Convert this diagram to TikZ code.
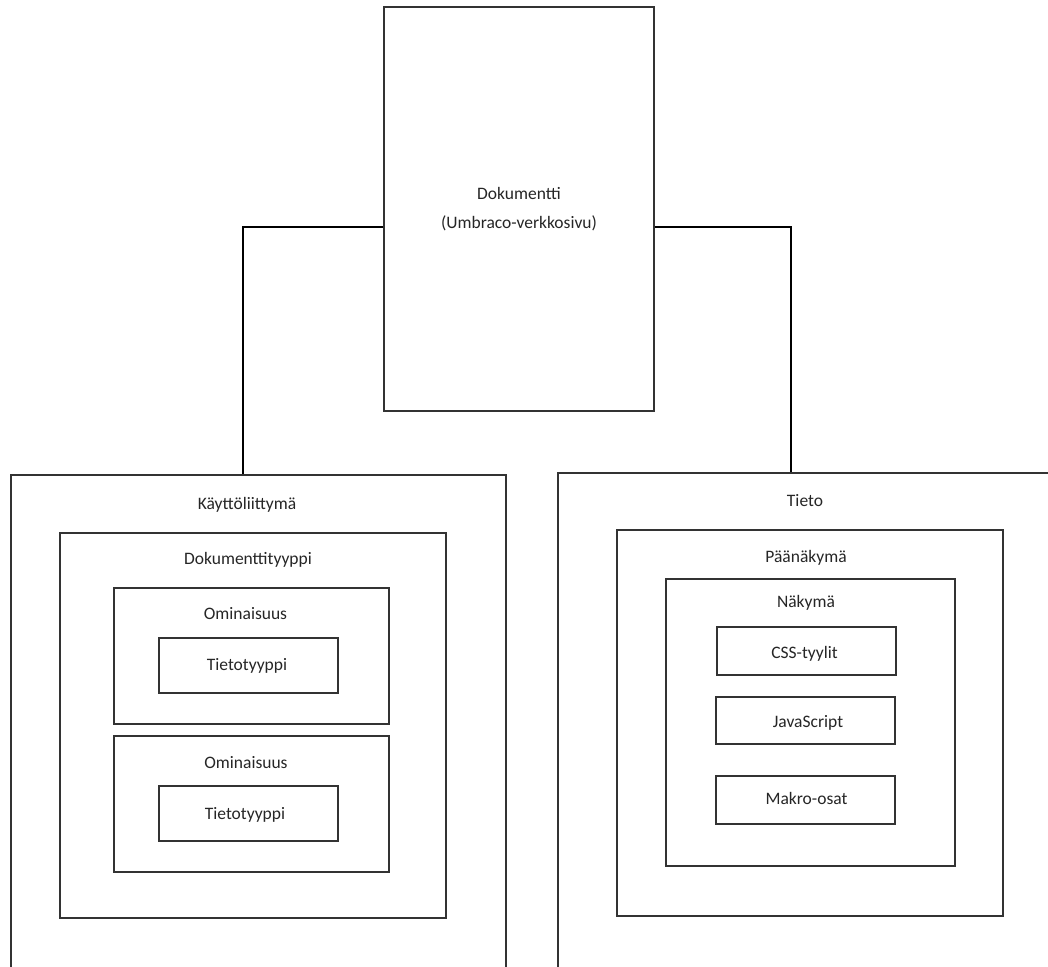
\documentclass[tikz,border=0pt]{standalone}
\usepackage{fontspec}
\setmainfont{Carlito}
\begin{document}
\begin{tikzpicture}[x=1pt,y=-1pt,
  box/.style 2 args={draw=black!80, line width=1.3pt, minimum width=#1, minimum height=#2, inner sep=0pt},
  lbl/.style={anchor=base, inner sep=0pt, text=black!85, font=\fontsize{17.5}{29}\selectfont},
  conn/.style={draw=black, line width=1.8pt}]
\useasboundingbox (0,0) rectangle (1048,966);
\clip (0,0) rectangle (1048,966);
\fill[white] (0,0) rectangle (1048,966);

% top document box
\node[box={270pt}{404pt}, align=center, text=black!85, font=\fontsize{17.5}{29}\selectfont] (doc) at (519,209) {Dokumentti\\(Umbraco-verkkosivu)};

% left group
\node[box={495pt}{560pt}] (ui) at (258.5,755) {};
\node[lbl] (uil) at (247,509) {Käyttöliittymä};
\node[box={386pt}{385pt}] (dt) at (253,725.5) {};
\node[lbl] (dtl) at (248,564) {Dokumenttityyppi};
\node[box={275pt}{136pt}] (om1) at (251.5,656) {};
\node[lbl] (om1l) at (245.5,619) {Ominaisuus};
\node[box={179pt}{55pt}] (tt1) at (248.5,665.5) {};
\node[lbl] (tt1l) at (247,670) {Tietotyyppi};
\node[box={275pt}{136pt}] (om2) at (251.5,804) {};
\node[lbl] (om2l) at (246,768) {Ominaisuus};
\node[box={179pt}{55pt}] (tt2) at (248.5,813.5) {};
\node[lbl] (tt2l) at (245,819) {Tietotyyppi};

% right group
\node[box={560pt}{560pt}] (ti) at (838,753) {};
\node[lbl] (til) at (805,506) {Tieto};
\node[box={386pt}{386pt}] (pn) at (810,723) {};
\node[lbl] (pnl) at (806,562) {Päänäkymä};
\node[box={289pt}{287pt}] (nk) at (810.5,722.5) {};
\node[lbl] (nkl) at (806,607) {Näkymä};
\node[box={179pt}{48pt}] (css) at (806.5,651) {};
\node[lbl] (cssl) at (804.5,658) {CSS-tyylit};
\node[box={179pt}{47pt}] (js) at (805.5,720.5) {};
\node[lbl] (jsl) at (808,727) {JavaScript};
\node[box={179pt}{48pt}] (mk) at (805.5,800) {};
\node[lbl] (mkl) at (806.5,804) {Makro-osat};

% connectors
\draw[conn] ([yshift=-18pt]doc.west) -| ([xshift=233pt]ui.north west);
\draw[conn] ([yshift=-18pt]doc.east) -| ([xshift=234pt]ti.north west);
\end{tikzpicture}
\end{document}
